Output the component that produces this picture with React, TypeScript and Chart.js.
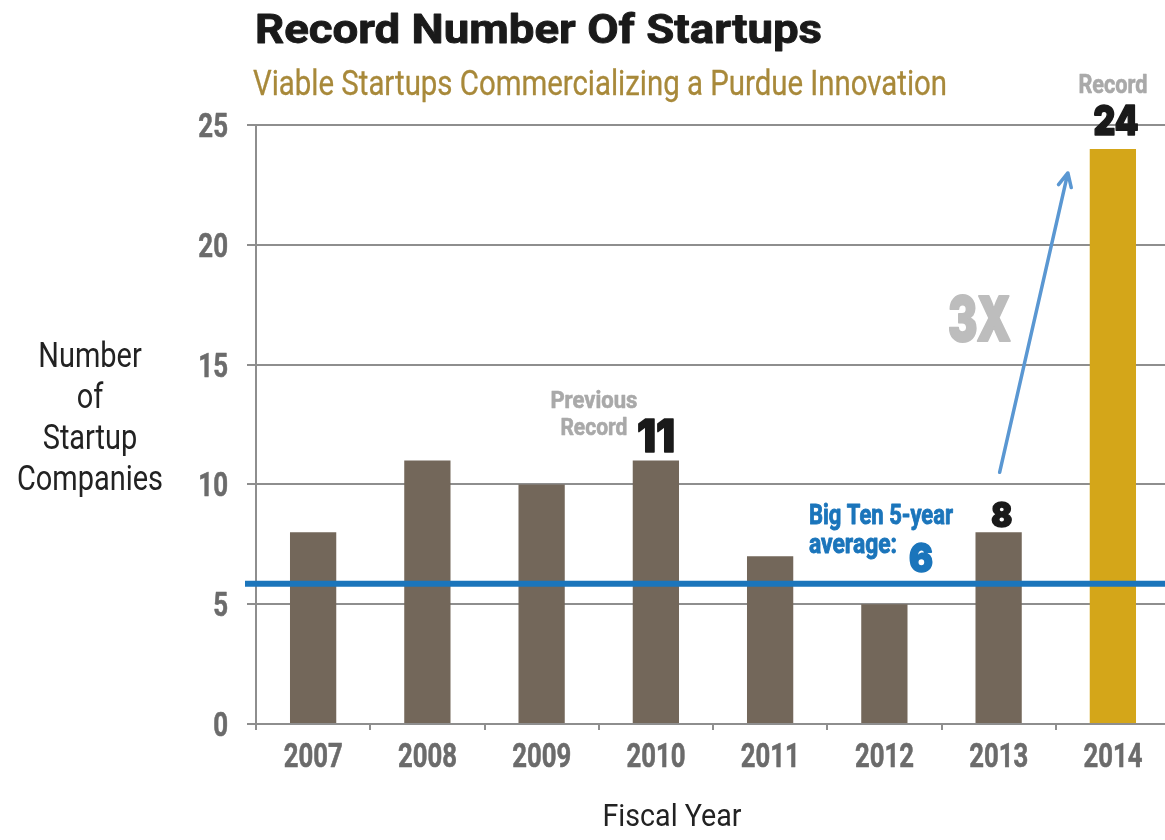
import React, { useEffect, useRef } from 'react';
import { Chart, registerables } from 'chart.js';

Chart.register(...registerables);

// ---- data ----
const categories = ['2007', '2008', '2009', '2010', '2011', '2012', '2013', '2014'];
const startups = [8, 11, 10, 11, 7, 5, 8, 24];
const yTicks = [0, 5, 10, 15, 20, 25];
const bigTenAverage = 5.85;
const bigTenAverageLabel = '6';
const bigTenLabelLines = ['Big Ten 5-year', 'average:'];
const previousRecordYear = '2010';
const previousRecordLines = ['Previous', 'Record'];
const recordYear = '2014';
const recordLabel = 'Record';
const lastYear = '2013';
const growthLabel = '3X';
const titleText = 'Record Number Of Startups';
const subtitleText = 'Viable Startups Commercializing a Purdue Innovation';
const yTitleLines = ['Number', 'of', 'Startup', 'Companies'];
const xTitleText = 'Fiscal Year';

// ---- styles ----
const FAMILY = 'Roboto, "Noto Sans", "DejaVu Sans", sans-serif';
const HEAVY = 'Inter, Roboto, "DejaVu Sans", sans-serif';
const BROWN = '#73675a';
const GOLD = '#d4a619';
const GRID = '#8e8e8e';
const BLUE = '#1b75bb';
const ARROW = '#5a97d2';
const TICK_TEXT = '#6b6b6b';
const LIGHT_GRAY = '#a9a9a9';

type Align = 'left' | 'center' | 'right';

function drawText(
  ctx: CanvasRenderingContext2D,
  s: string,
  x: number,
  baseline: number,
  size: number,
  weight: number,
  color: string,
  align: Align,
  opt: { width?: number; sx?: number; stroke?: number; family?: string }
) {
  ctx.save();
  ctx.font = `${weight} ${size}px ${opt.family ?? FAMILY}`;
  const w = ctx.measureText(s).width;
  const sx = opt.width !== undefined ? opt.width / w : opt.sx ?? 1;
  const drawnW = w * sx;
  let left = x;
  if (align === 'center') left = x - drawnW / 2;
  else if (align === 'right') left = x - drawnW;
  ctx.fillStyle = color;
  ctx.strokeStyle = color;
  ctx.lineJoin = 'round';
  ctx.textAlign = 'left';
  ctx.textBaseline = 'alphabetic';
  ctx.translate(left, baseline);
  ctx.scale(sx, 1);
  ctx.fillText(s, 0, 0);
  if (opt.stroke) {
    ctx.lineWidth = opt.stroke;
    ctx.strokeText(s, 0, 0);
  }
  ctx.restore();
}

const decorPlugin = {
  id: 'decor',
  afterDatasetsDraw(chart: any) {
    const ctx: CanvasRenderingContext2D = chart.ctx;
    const area = chart.chartArea;
    const y = chart.scales.y;
    const ay = y.getPixelForValue(bigTenAverage);
    ctx.save();
    ctx.strokeStyle = BLUE;
    ctx.lineWidth = 6;
    ctx.beginPath();
    ctx.moveTo(area.left - 11, ay);
    ctx.lineTo(chart.width, ay);
    ctx.stroke();
    ctx.restore();
  },
  afterDraw(chart: any) {
    const ctx: CanvasRenderingContext2D = chart.ctx;
    const area = chart.chartArea;
    const xs = chart.scales.x;
    const ys = chart.scales.y;

    // Titles
    drawText(ctx, titleText, 255, 43, 41, 700, '#1a1a1a', 'left', { width: 567, stroke: 0.9 });
    drawText(ctx, subtitleText, 253, 95, 35, 400, '#a8893a', 'left', { width: 694, stroke: 0.3 });

    // Y tick labels
    yTicks.forEach((v) => {
      const py = ys.getPixelForValue(v);
      drawText(ctx, String(v), area.left - 28, py + 12, 34, 700, TICK_TEXT, 'right', { sx: 0.76, stroke: 0.6 });
    });

    // X tick labels
    categories.forEach((c, i) => {
      const px = xs.getPixelForValue(i);
      drawText(ctx, c, px, 767, 34, 700, TICK_TEXT, 'center', { width: 59, stroke: 0.6 });
    });

    // Axis titles
    const yTitleBaselines = [367, 408, 449, 490];
    ctx.save();
    ctx.font = `400 35px ${FAMILY}`;
    const yTitleSx = 146 / ctx.measureText('Companies').width;
    ctx.restore();
    yTitleLines.forEach((line, i) => {
      drawText(ctx, line, 90, yTitleBaselines[i], 35, 400, '#222', 'center', { sx: yTitleSx });
    });
    drawText(ctx, xTitleText, 672, 826, 31, 400, '#222', 'center', { width: 139 });

    // Previous record annotation
    const iPrev = categories.indexOf(previousRecordYear);
    const xPrev = xs.getPixelForValue(iPrev);
    const yPrev = ys.getPixelForValue(startups[iPrev]);
    drawText(ctx, previousRecordLines[0], xPrev - 62, yPrev - 52, 24, 700, LIGHT_GRAY, 'center', { width: 87, stroke: 0.6 });
    drawText(ctx, previousRecordLines[1], xPrev - 62, yPrev - 25, 24, 700, LIGHT_GRAY, 'center', { width: 67, stroke: 0.6 });
    drawText(ctx, String(startups[iPrev]), xPrev, yPrev - 8, 45, 900, '#1a1a1a', 'center', { width: 38, family: HEAVY, stroke: 1.6 });

    // Last year value
    const iLast = categories.indexOf(lastYear);
    const xLast = xs.getPixelForValue(iLast);
    const yLast = ys.getPixelForValue(startups[iLast]);
    drawText(ctx, String(startups[iLast]), xLast + 3, yLast - 5, 34, 900, '#1a1a1a', 'center', { width: 21, family: HEAVY, stroke: 1.6 });

    // Record
    const iRec = categories.indexOf(recordYear);
    const xRec = xs.getPixelForValue(iRec);
    const yRec = ys.getPixelForValue(startups[iRec]);
    drawText(ctx, recordLabel, xRec, yRec - 56, 25, 700, LIGHT_GRAY, 'center', { width: 69, stroke: 0.6 });
    drawText(ctx, String(startups[iRec]), xRec + 3, yRec - 14, 41, 900, '#1a1a1a', 'center', { width: 45, family: HEAVY, stroke: 1.6 });

    // Big Ten label
    const ay = ys.getPixelForValue(bigTenAverage);
    drawText(ctx, bigTenLabelLines[0], 809, ay - 60, 27, 700, BLUE, 'left', { width: 144, stroke: 0.9 });
    drawText(ctx, bigTenLabelLines[1], 809, ay - 31, 27, 700, BLUE, 'left', { width: 88, stroke: 0.9 });
    drawText(ctx, bigTenAverageLabel, 909, ay - 12, 40, 900, BLUE, 'left', { width: 24, family: HEAVY, stroke: 1.6 });

    // Arrow from last year to record
    const sx0 = xLast + 1;
    const sy0 = yLast - 60;
    const ex = xRec - 45;
    const ey = yRec + 24;
    ctx.save();
    ctx.strokeStyle = ARROW;
    ctx.lineWidth = 3.5;
    ctx.lineCap = 'round';
    ctx.lineJoin = 'round';
    ctx.beginPath();
    ctx.moveTo(sx0, sy0);
    ctx.lineTo(ex, ey);
    const ang = Math.atan2(ey - sy0, ex - sx0);
    const hl = 15;
    ctx.moveTo(ex - hl * Math.cos(ang - 0.45), ey - hl * Math.sin(ang - 0.45));
    ctx.lineTo(ex, ey);
    ctx.lineTo(ex - hl * Math.cos(ang + 0.45), ey - hl * Math.sin(ang + 0.45));
    ctx.stroke();
    ctx.restore();

    // 3X label
    drawText(ctx, growthLabel, 948, 341, 62, 900, '#bdbdbd', 'left', { width: 63, family: HEAVY, stroke: 2 });
  },
};

export default function App() {
  const canvasRef = useRef<HTMLCanvasElement | null>(null);

  useEffect(() => {
    const canvas = canvasRef.current;
    if (!canvas) return;
    const chart = new Chart(canvas, {
      type: 'bar',
      data: {
        labels: categories,
        datasets: [
          {
            data: startups,
            backgroundColor: categories.map((c) => (c === recordYear ? GOLD : BROWN)),
            borderWidth: 0,
            barPercentage: 0.405,
            categoryPercentage: 1,
          },
        ],
      },
      options: {
        animation: false,
        responsive: false,
        maintainAspectRatio: false,
        devicePixelRatio: 1,
        layout: { padding: { left: 247, top: 125, right: 0, bottom: 110 } },
        plugins: {
          legend: { display: false },
          tooltip: { enabled: false },
          title: { display: false },
        },
        scales: {
          x: {
            offset: true,
            grid: {
              display: true,
              drawOnChartArea: false,
              drawTicks: true,
              tickLength: 6,
              color: GRID,
              lineWidth: 2,
              offset: true,
            },
            border: { display: true, color: GRID, width: 2 },
            ticks: { display: false },
          },
          y: {
            min: 0,
            max: 25,
            afterBuildTicks: (scale: any) => {
              scale.ticks = yTicks.map((v) => ({ value: v }));
            },
            ticks: { display: false },
            grid: { color: GRID, lineWidth: 2, drawTicks: true, tickLength: 9 },
            border: { display: true, color: GRID, width: 2 },
          },
        },
      },
      plugins: [decorPlugin],
    });
    return () => chart.destroy();
  }, []);

  return (
    <div
      style={{
        position: 'fixed',
        left: 0,
        top: 0,
        width: 1165,
        height: 840,
        overflow: 'hidden',
        background: '#fff',
      }}
    >
      <canvas ref={canvasRef} width={1170} height={840} style={{ width: 1170, height: 840, display: 'block' }} />
    </div>
  );
}
